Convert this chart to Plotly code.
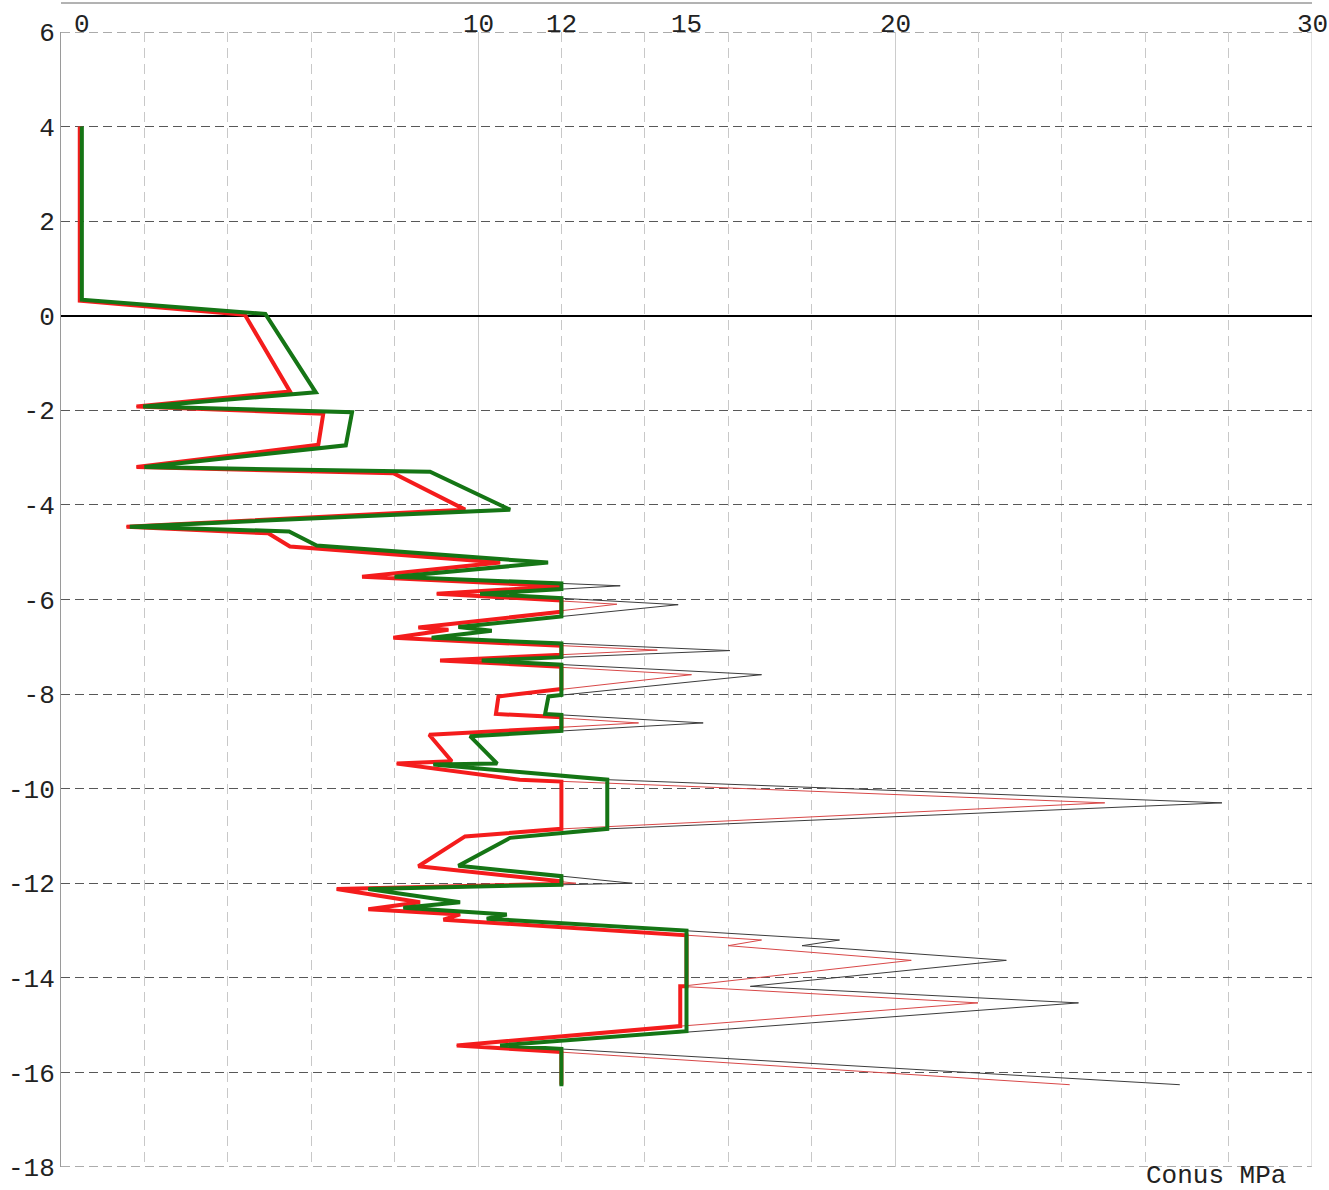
import plotly.graph_objects as go

# Cone resistance (MPa) against level (m): measured trace
QC_LEVEL = [4.0, 0.34, 0.04, -1.62, -1.92, -2.04, -2.74, -3.2, -3.3, -4.1,
            -4.46, -4.56, -4.86, -5.22, -5.52, -5.71, -5.88, -6.11, -6.58, -6.66,
            -6.81, -7.08, -7.29, -7.59, -8.05, -8.42, -8.61, -8.89, -9.47, -9.49,
            -9.81, -10.3, -10.85, -11.04, -11.63, -12.0, -12.12, -12.4, -12.52, -12.66,
            -12.75, -13.2, -13.32, -13.63, -14.18, -14.53, -15.15, -15.43, -16.26]
QC_VALUE = [0.5, 0.5, 4.9, 6.11, 1.97, 6.98, 6.83, 2.0, 8.85, 10.77,
            1.65, 5.47, 6.13, 11.68, 8.0, 13.41, 10.05, 14.8, 9.53, 10.33,
            8.89, 16.04, 10.09, 16.8, 11.69, 11.61, 15.4, 9.81, 10.46, 8.93,
            13.1, 27.84, 13.1, 10.77, 9.53, 13.7, 7.37, 9.57, 8.21, 10.69,
            10.21, 18.67, 17.77, 22.67, 16.53, 24.4, 14.98, 10.53, 26.83]

# Reduced trace
QC_RED_LEVEL = [4.0, 0.32, 0.02, -1.6, -1.92, -2.07, -2.73, -3.2, -3.33, -4.1,
                -4.46, -4.6, -4.88, -5.22, -5.52, -5.72, -5.88, -6.1, -6.59, -6.64,
                -6.81, -7.07, -7.29, -7.59, -8.05, -8.42, -8.61, -8.86, -9.42, -9.47,
                -9.81, -10.3, -10.85, -11.01, -11.64, -12.0, -12.12, -12.4, -12.55, -12.66,
                -12.77, -13.2, -13.32, -13.63, -14.18, -14.53, -15.02, -15.43, -16.26]
QC_RED_VALUE = [0.45, 0.45, 4.41, 5.49, 1.81, 6.29, 6.17, 1.81, 7.97, 9.69,
                1.57, 4.97, 5.49, 10.53, 7.22, 11.97, 9.01, 13.33, 8.57, 9.29,
                7.97, 14.3, 9.09, 15.12, 10.49, 10.43, 13.85, 8.83, 9.37, 8.05,
                11.0, 25.03, 12.0, 9.69, 8.57, 12.35, 6.61, 8.61, 7.37, 9.57,
                9.17, 16.8, 16.0, 20.39, 14.85, 21.99, 14.87, 9.49, 24.19]

# Design trace of the reduced values (capped at 12 / 15 MPa)
DESIGN_RED_LEVEL = [4.0, 0.32, 0.02, -1.6, -1.92, -2.07, -2.73, -3.2, -3.33, -4.1,
                    -4.46, -4.6, -4.88, -5.22, -5.52, -5.72, -5.88, -6.02, -6.26, -6.59,
                    -6.64, -6.81, -6.98, -7.17, -7.29, -7.42, -7.89, -8.05, -8.42, -8.49,
                    -8.71, -8.86, -9.42, -9.47, -9.81, -9.85, -10.85, -11.01, -11.64, -11.96,
                    -12.01, -12.12, -12.4, -12.55, -12.66, -12.77, -13.1, -14.18, -14.18, -15.02,
                    -15.43, -15.57, -16.26]
DESIGN_RED_VALUE = [0.45, 0.45, 4.41, 5.49, 1.81, 6.29, 6.17, 1.81, 7.97, 9.69,
                    1.57, 4.97, 5.49, 10.53, 7.22, 11.97, 9.01, 12, 12, 8.57,
                    9.29, 7.97, 12, 12, 9.09, 12, 12, 10.49, 10.43, 12,
                    12, 8.83, 9.37, 8.05, 11.0, 12, 12, 9.69, 8.57, 12,
                    12, 6.61, 8.61, 7.37, 9.57, 9.17, 15, 15, 14.85, 14.85,
                    9.49, 12, 12]

# Design trace of the measured values
DESIGN_LEVEL = [4.0, 0.34, 0.04, -1.62, -1.92, -2.04, -2.74, -3.2, -3.3, -4.1,
                -4.46, -4.56, -4.86, -5.22, -5.52, -5.66, -5.78, -5.88, -5.97, -6.36,
                -6.58, -6.66, -6.81, -6.93, -7.22, -7.29, -7.38, -8.02, -8.05, -8.42,
                -8.44, -8.78, -8.89, -9.47, -9.49, -9.81, -10.85, -11.04, -11.63, -11.85,
                -12.03, -12.12, -12.4, -12.52, -12.66, -12.75, -13.0, -15.13, -15.43, -15.5,
                -16.29]
DESIGN_VALUE = [0.5, 0.5, 4.9, 6.11, 1.97, 6.98, 6.83, 2.0, 8.85, 10.77,
                1.65, 5.47, 6.13, 11.68, 8.0, 12, 12, 10.05, 12, 12,
                9.53, 10.33, 8.89, 12, 12, 10.09, 12, 12, 11.69, 11.61,
                12, 12, 9.81, 10.46, 8.93, 13.1, 13.1, 10.77, 9.53, 12,
                12, 7.37, 9.57, 8.21, 10.69, 10.21, 15, 15, 10.53, 12,
                12]

X_TICKS = [0, 10, 12, 15, 20, 30]
Y_TICKS = [6, 4, 2, 0, -2, -4, -6, -8, -10, -12, -14, -16, -18]
Y_TICK_TEXT = ["6", "4", "2", "0", "-2", "-4", "-6", "-8", "-10", "-12", "-14", "-16", "-18"]
X_TITLE = "Conus MPa"

FONT = "Liberation Mono, Courier New, monospace"
TEXT_COLOR = "#222222"
HGRID = dict(color="#585858", width=1, dash="9px,5px")

X_MIN, X_MAX = X_TICKS[0], X_TICKS[-1]
Y_MIN, Y_MAX = Y_TICKS[-1], Y_TICKS[0]

fig = go.Figure()
fig.add_trace(go.Scatter(x=QC_VALUE, y=QC_LEVEL, mode="lines",
                         line=dict(color="#3c3c3c", width=1), hoverinfo="skip"))
fig.add_trace(go.Scatter(x=QC_RED_VALUE, y=QC_RED_LEVEL, mode="lines",
                         line=dict(color="#d84848", width=1), hoverinfo="skip"))
fig.add_trace(go.Scatter(x=DESIGN_RED_VALUE, y=DESIGN_RED_LEVEL, mode="lines",
                         line=dict(color="#f41c1c", width=4), hoverinfo="skip"))
fig.add_trace(go.Scatter(x=DESIGN_VALUE, y=DESIGN_LEVEL, mode="lines",
                         line=dict(color="#157515", width=4), hoverinfo="skip"))

annotations = []
for v in X_TICKS:
    annotations.append(dict(
        x=v, y=1, xref="x", yref="paper", text=str(v), showarrow=False,
        xanchor="center", yanchor="bottom", yshift=-10,
        xshift=21 if v == 0 else 0,
        font=dict(family=FONT, size=26, color=TEXT_COLOR)))
annotations.append(dict(
    x=29.42, y=-23 / 1135, xref="x", yref="paper", text=X_TITLE, showarrow=False,
    xanchor="right", yanchor="bottom", yshift=-3,
    font=dict(family=FONT, size=26, color=TEXT_COLOR)))

shapes = [
    # rule above the scale labels
    dict(type="line", xref="x", yref="paper", x0=X_MIN, x1=X_MAX,
         y0=1 + 29 / 1135, y1=1 + 29 / 1135, line=dict(color="#666666", width=1)),
    # dashed grid at the top and bottom levels of the frame
    dict(type="line", xref="x", yref="y", x0=X_MIN, x1=X_MAX, y0=Y_MAX, y1=Y_MAX,
         line=HGRID, layer="below"),
    dict(type="line", xref="x", yref="y", x0=X_MIN, x1=X_MAX, y0=Y_MIN, y1=Y_MIN,
         line=HGRID, layer="below"),
    # solid grid at the right edge
    dict(type="line", xref="x", yref="y", x0=X_MAX, x1=X_MAX, y0=Y_MIN, y1=Y_MAX,
         line=dict(color="#c8c8c8", width=1), layer="below"),
]

fig.update_layout(
    width=1329, height=1190,
    margin=dict(l=61, r=17, t=32, b=23, autoexpand=False),
    paper_bgcolor="white", plot_bgcolor="white",
    showlegend=False,
    font=dict(family=FONT, size=26, color=TEXT_COLOR),
    annotations=annotations,
    shapes=shapes,
    xaxis=dict(range=[X_MIN, X_MAX], showticklabels=False, ticks="", automargin=False,
               showgrid=True, tick0=0, dtick=10, gridcolor="#cccccc", gridwidth=1,
               minor=dict(dtick=2, tick0=0, showgrid=True, gridcolor="#c8c8c8",
                          griddash="10px,6px", gridwidth=1),
               zeroline=False, showline=False, fixedrange=True),
    yaxis=dict(range=[Y_MIN, Y_MAX], tickvals=Y_TICKS, ticktext=Y_TICK_TEXT, ticks="",
               automargin=False,
               showgrid=True, gridcolor=HGRID["color"], gridwidth=1, griddash=HGRID["dash"],
               zeroline=True, zerolinecolor="#000000", zerolinewidth=1.5,
               showline=True, linecolor="#9a9a9a", linewidth=1,
               tickfont=dict(family=FONT, size=26, color=TEXT_COLOR),
               fixedrange=True),
)

fig.write_html("out.html", config={"displayModeBar": False})
